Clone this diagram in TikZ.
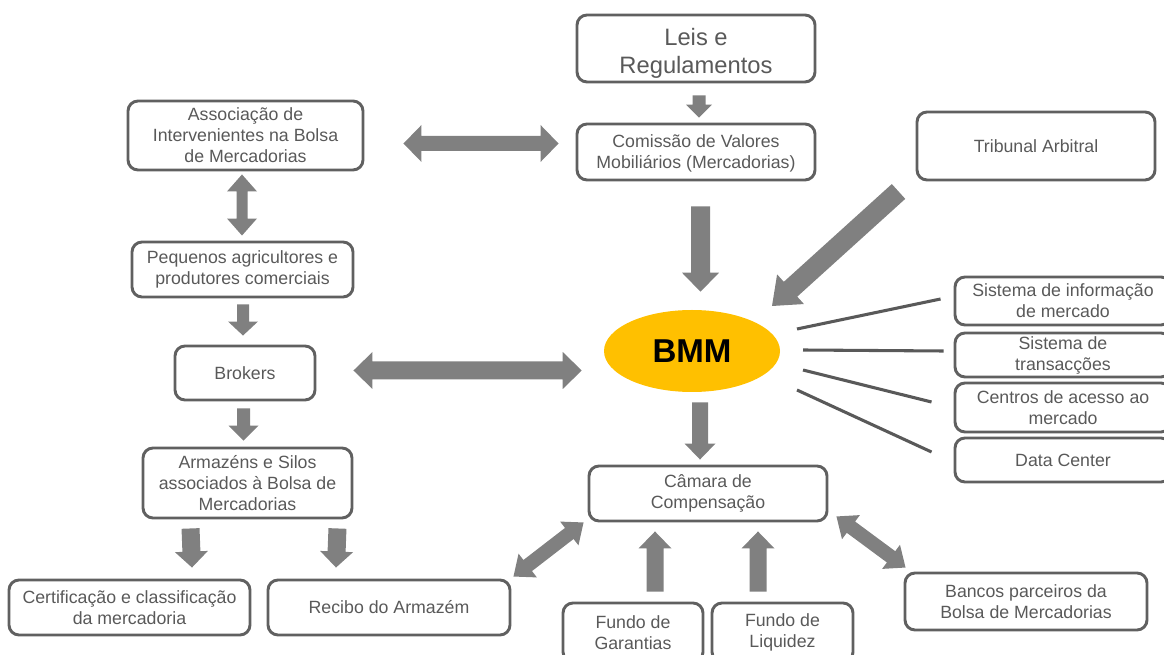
\documentclass[tikz,border=0pt]{standalone}
\usepackage{fontspec}
\setmainfont{Liberation Sans}
\usetikzlibrary{calc,shapes.geometric}
\definecolor{arrowgray}{HTML}{808080}
\definecolor{boxline}{HTML}{606060}
\definecolor{txtgray}{HTML}{595959}
\definecolor{bmmfill}{HTML}{FFC000}
\definecolor{linegray}{HTML}{595959}
% single fat arrow: #1 start, #2 tip, #3 half shaft (px), #4 half head (px), #5 head length (px)
\newcommand\fatarrow[5]{%
  \coordinate (faA) at #1;
  \coordinate (faB) at #2;
  \coordinate (faH) at ($(faB)!#5*0.75pt!(faA)$);
  \fill[arrowgray] ($(faA)!#3*0.75pt!90:(faB)$) -- ($(faH)!#3*0.75pt!90:(faB)$) --
    ($(faH)!#4*0.75pt!90:(faB)$) -- (faB) -- ($(faH)!#4*0.75pt!-90:(faB)$) --
    ($(faH)!#3*0.75pt!-90:(faB)$) -- ($(faA)!#3*0.75pt!-90:(faB)$) -- cycle;}
% double fat arrow
\newcommand\dblarrow[5]{%
  \coordinate (daA) at #1;
  \coordinate (daB) at #2;
  \coordinate (daHA) at ($(daA)!#5*0.75pt!(daB)$);
  \coordinate (daHB) at ($(daB)!#5*0.75pt!(daA)$);
  \fill[arrowgray] (daA) -- ($(daHA)!#4*0.75pt!90:(daB)$) -- ($(daHA)!#3*0.75pt!90:(daB)$) --
    ($(daHB)!#3*0.75pt!-90:(daA)$) -- ($(daHB)!#4*0.75pt!-90:(daA)$) -- (daB) --
    ($(daHB)!#4*0.75pt!90:(daA)$) -- ($(daHB)!#3*0.75pt!90:(daA)$) --
    ($(daHA)!#3*0.75pt!-90:(daB)$) -- ($(daHA)!#4*0.75pt!-90:(daB)$) -- cycle;}
\begin{document}
\begin{tikzpicture}[x=0.75pt,y=-0.75pt,
  box/.style={draw=boxline, line width=2.2pt, rounded corners=7.5pt, text=txtgray,
    align=center, inner sep=0pt, font=\fontsize{13.3}{15.75}\selectfont},
  bigbox/.style={box, font=\fontsize{17.8}{21}\selectfont},
  conn/.style={draw=linegray, line width=2.3pt}]
\useasboundingbox (0,0) rectangle (1164,655);
\clip (0,0) rectangle (1164,655);

% nodes
\node[bigbox, minimum width=178.5pt, minimum height=50.25pt] (leis) at (696,48.5) {\rule{0pt}{20pt}Leis e\\Regulamentos};
\node[box, minimum width=178.5pt, minimum height=42pt] (cvm) at (696,152) {\rule{0pt}{12.5pt}Comissão de Valores\\Mobiliários (Mercadorias)};
\node[box, minimum width=176.25pt, minimum height=51.75pt] (assoc) at (245.5,135.5) {Associação de\\Intervenientes na Bolsa\\de Mercadorias};
\node[box, minimum width=178.5pt, minimum height=51pt] (trib) at (1036,146) {Tribunal Arbitral};
\node[box, minimum width=165.75pt, minimum height=41.25pt] (peq) at (242.5,269.5) {Pequenos agricultores e\\produtores comerciais};
\node[box, minimum width=105pt, minimum height=40.5pt] (brokers) at (245,373) {Brokers};
\node[box, minimum width=156.75pt, minimum height=52.5pt] (arm) at (247.5,483) {Armazéns e Silos\\associados à Bolsa de\\Mercadorias};
\node[box, minimum width=180.75pt, minimum height=41.25pt] (cert) at (129.5,607.5) {Certificação e classificação\\da mercadoria};
\node[box, minimum width=181.5pt, minimum height=41.25pt] (recibo) at (389,607.5) {Recibo do Armazém};
\node[box, minimum width=178.5pt, minimum height=41.25pt] (camara) at (708,493.5) {Câmara de\\Compensação};
\node[box, minimum width=105pt, minimum height=44.25pt] (fg) at (633,632.5) {Fundo de\\Garantias};
\node[box, minimum width=105.75pt, minimum height=44.25pt] (fl) at (782.5,632.5) {Fundo de\\Liquidez};
\node[box, minimum width=181.5pt, minimum height=42.75pt] (bancos) at (1026,601.5) {Bancos parceiros da\\Bolsa de Mercadorias};
\node[box, minimum width=162pt, minimum height=36pt] (sim) at (1063,301) {Sistema de informação\\de mercado};
\node[box, minimum width=162pt, minimum height=33pt] (st) at (1063,355) {Sistema de\\transacções};
\node[box, minimum width=162pt, minimum height=36.75pt] (cam) at (1063,407.5) {Centros de acesso ao\\mercado};
\node[box, minimum width=162pt, minimum height=33pt] (dc) at (1063,460) {Data Center};
\node[ellipse, fill=bmmfill, minimum width=132pt, minimum height=61.5pt, inner sep=0pt,
  font=\fontsize{24.8}{28}\selectfont\bfseries] (bmm) at (692,351) {BMM};

% fat arrows
\fatarrow{($(leis.south)+(3,12)$)}{($(cvm.north)+(3,-5)$)}{6.5}{13}{13}
\fatarrow{($(cvm.south)+(4.5,25)$)}{($(bmm.north)+(8.5,-18)$)}{9.5}{18.5}{19}
\fatarrow{($(trib.south west)+(-17,10)$)}{($(bmm.center)+(80,-45)$)}{10}{20}{25}
\fatarrow{($(bmm.south)+(8,10)$)}{($(camara.north)+(-8,-5)$)}{8}{15.5}{16}
\dblarrow{($(assoc.east)+(39,8)$)}{($(cvm.west)+(-17,-8.5)$)}{7.5}{18.5}{18}
\dblarrow{($(assoc.south)+(-3.5,3)$)}{($(peq.north)+(-0.5,-5)$)}{5.5}{15}{17}
\fatarrow{($(peq.south)+(0.5,6)$)}{($(brokers.north)+(-2,-9)$)}{6}{15}{14}
\dblarrow{($(brokers.east)+(37,-2.5)$)}{($(bmm.west)+(-22,19.5)$)}{9}{18.5}{19}
\fatarrow{($(brokers.south)+(-1.5,7)$)}{($(arm.north)+(-4,-6)$)}{6.5}{15}{15}
\fatarrow{($(arm.south west)+(49,9)$)}{($(cert.north)+(62.5,-11)$)}{9}{16.5}{16}
\fatarrow{($(arm.south east)+(-16,9)$)}{($(recibo.north)+(-53,-11)$)}{9}{16.5}{16}
\fatarrow{($(fg.north)+(22,-10)$)}{($(camara.south)+(-53,9)$)}{8.5}{16.5}{17}
\fatarrow{($(fl.north)+(-24.5,-10)$)}{($(camara.south)+(50,9)$)}{8.5}{16.5}{17}
\dblarrow{($(camara.south west)+(-4,0)$)}{($(recibo.north east)+(2,-2)$)}{7}{15}{18}
\dblarrow{($(camara.south east)+(8,-6)$)}{($(bancos.north west)+(2,-4)$)}{7}{15}{18}

% thin connectors
\draw[conn] ($(bmm.center)+(105,-22)$) -- ($(sim.west)+(-13,-2)$);
\draw[conn] ($(bmm.center)+(111,-1)$) -- ($(st.west)+(-10,-4)$);
\draw[conn] ($(bmm.center)+(111,19)$) -- ($(cam.west)+(-22,-5.5)$);
\draw[conn] ($(bmm.center)+(105,39)$) -- ($(dc.west)+(-22,-8)$);
\end{tikzpicture}
\end{document}
